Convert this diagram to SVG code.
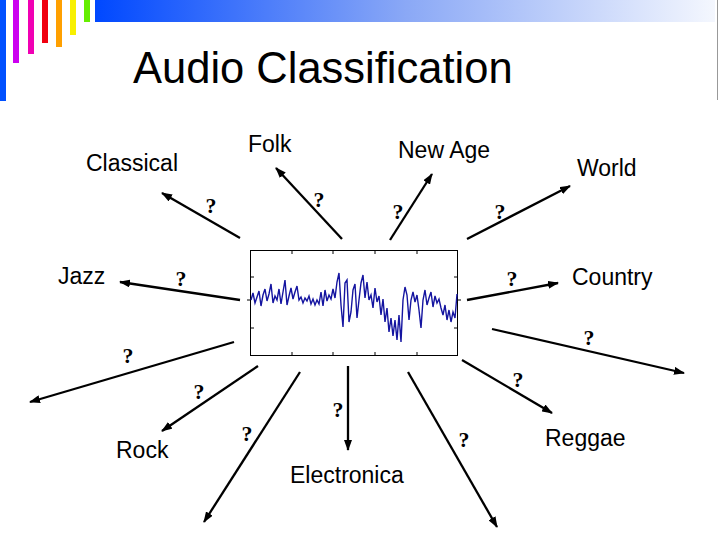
<svg xmlns="http://www.w3.org/2000/svg" width="720" height="540" viewBox="0 0 720 540">
<defs>
<linearGradient id="topbar" x1="0" y1="0" x2="1" y2="0">
<stop offset="0" stop-color="#0048FF"/>
<stop offset="0.5" stop-color="#8AA8F6"/>
<stop offset="1" stop-color="#F4F7FE"/>
</linearGradient>
<marker id="ah" viewBox="0 0 11 8" refX="10" refY="4" markerWidth="11" markerHeight="8" markerUnits="userSpaceOnUse" orient="auto">
<path d="M0,0 L11,4 L0,8 Z" fill="#000"/>
</marker>
<style>
.lbl{font-family:"Liberation Sans",Arial,sans-serif;font-size:23px;fill:#000}
.q{font-family:"Liberation Serif","Times New Roman",serif;font-size:22px;font-weight:bold;fill:#000;text-anchor:middle}
.arr{stroke:#000;stroke-width:2.3;fill:none;marker-end:url(#ah)}
.tick{stroke:#000;stroke-width:1}
</style>
</defs>
<rect width="720" height="540" fill="#fff"/>
<g id="decor">
<rect x="0" y="0" width="6" height="101" fill="#0050FF"/>
<rect x="13" y="0" width="6" height="63" fill="#CC00F0"/>
<rect x="28" y="0" width="6" height="54" fill="#F000B4"/>
<rect x="42" y="0" width="6" height="43" fill="#F00010"/>
<rect x="56" y="0" width="6" height="47" fill="#FFA000"/>
<rect x="70" y="0" width="6" height="35" fill="#F8F000"/>
<rect x="84" y="0" width="6" height="22" fill="#66EE00"/>
<rect x="95" y="0" width="620" height="22" fill="url(#topbar)"/>
<line x1="717.5" y1="0" x2="717.5" y2="100" stroke="#999" stroke-width="1"/>
</g>
<g id="title"><text x="133" y="83" font-family="Liberation Sans, Arial, sans-serif" font-size="43.5" fill="#000">Audio Classification</text></g>
<g id="waveform">
<rect x="250.5" y="250.5" width="207" height="105" fill="#fff" stroke="#000" stroke-width="1"/>
<path class="tick" d="M292,251v3M333,251v3M375,251v3M417,251v3M292,355v-3M333,355v-3M375,355v-3M417,355v-3M251,277h3M251,328h3M457,277h-3M457,328h-3M247,300h3M458,300h3"/>
<polyline fill="none" stroke="#1414A0" stroke-width="1.4" points="251,300 253,293 255,303 257,297 259,291 261,306 263,295 265,289 267,301 269,294 271,284 273,303 275,296 277,300 279,289 281,304 283,292 285,280 287,305 289,296 291,288 293,299 295,292 297,286 299,300 301,297 303,303 305,298 307,301 309,296 311,304 313,299 315,305 317,300 319,304 321,292 323,306 325,290 327,301 329,295 331,299 333,289 335,298 337,282 339,273 341,305 343,327 345,283 347,280 349,322 351,312 353,290 355,284 357,318 359,300 361,283 363,275 365,298 367,282 369,300 371,295 373,308 375,288 377,302 379,296 381,315 383,299 385,322 387,308 389,332 391,318 393,336 395,320 397,340 399,315 401,342 403,300 405,287 407,295 409,320 411,300 413,292 415,302 417,295 419,310 421,328 423,300 425,290 427,305 429,298 431,292 433,307 435,296 437,303 439,299 441,308 443,315 445,305 447,320 449,310 451,322 453,312 455,318 457,294"/>
</g>
<g id="connectors">
<line class="arr" x1="240" y1="238" x2="162" y2="193"/>
<line class="arr" x1="342" y1="239" x2="276" y2="168"/>
<line class="arr" x1="240" y1="300" x2="120" y2="282"/>
<line class="arr" x1="390" y1="240" x2="432" y2="174"/>
<line class="arr" x1="467" y1="239" x2="570" y2="186"/>
<line class="arr" x1="467" y1="300" x2="558" y2="283"/>
<line class="arr" x1="234" y1="342" x2="30" y2="402"/>
<line class="arr" x1="258" y1="366" x2="162" y2="431"/>
<line class="arr" x1="300" y1="372" x2="204" y2="522"/>
<line class="arr" x1="348" y1="366" x2="348" y2="450"/>
<line class="arr" x1="492" y1="329" x2="684" y2="373"/>
<line class="arr" x1="462" y1="360" x2="552" y2="413"/>
<line class="arr" x1="408" y1="372" x2="497" y2="527"/>
<text class="q" x="211" y="213">?</text>
<text class="q" x="319" y="207">?</text>
<text class="q" x="181" y="286">?</text>
<text class="q" x="398" y="219">?</text>
<text class="q" x="500" y="219">?</text>
<text class="q" x="512" y="286">?</text>
<text class="q" x="128" y="363">?</text>
<text class="q" x="199" y="399">?</text>
<text class="q" x="247" y="441">?</text>
<text class="q" x="338" y="417">?</text>
<text class="q" x="589" y="345">?</text>
<text class="q" x="518" y="387">?</text>
<text class="q" x="464" y="447">?</text>
</g>
<g id="classical"><text class="lbl" x="86" y="171">Classical</text></g>
<g id="folk"><text class="lbl" x="248" y="152">Folk</text></g>
<g id="newage"><text class="lbl" x="398" y="158">New Age</text></g>
<g id="world"><text class="lbl" x="577" y="176">World</text></g>
<g id="jazz"><text class="lbl" x="58" y="284">Jazz</text></g>
<g id="country"><text class="lbl" x="572" y="285">Country</text></g>
<g id="rock"><text class="lbl" x="116" y="458">Rock</text></g>
<g id="electronica"><text class="lbl" x="290" y="483">Electronica</text></g>
<g id="reggae"><text class="lbl" x="545" y="446">Reggae</text></g>
</svg>
